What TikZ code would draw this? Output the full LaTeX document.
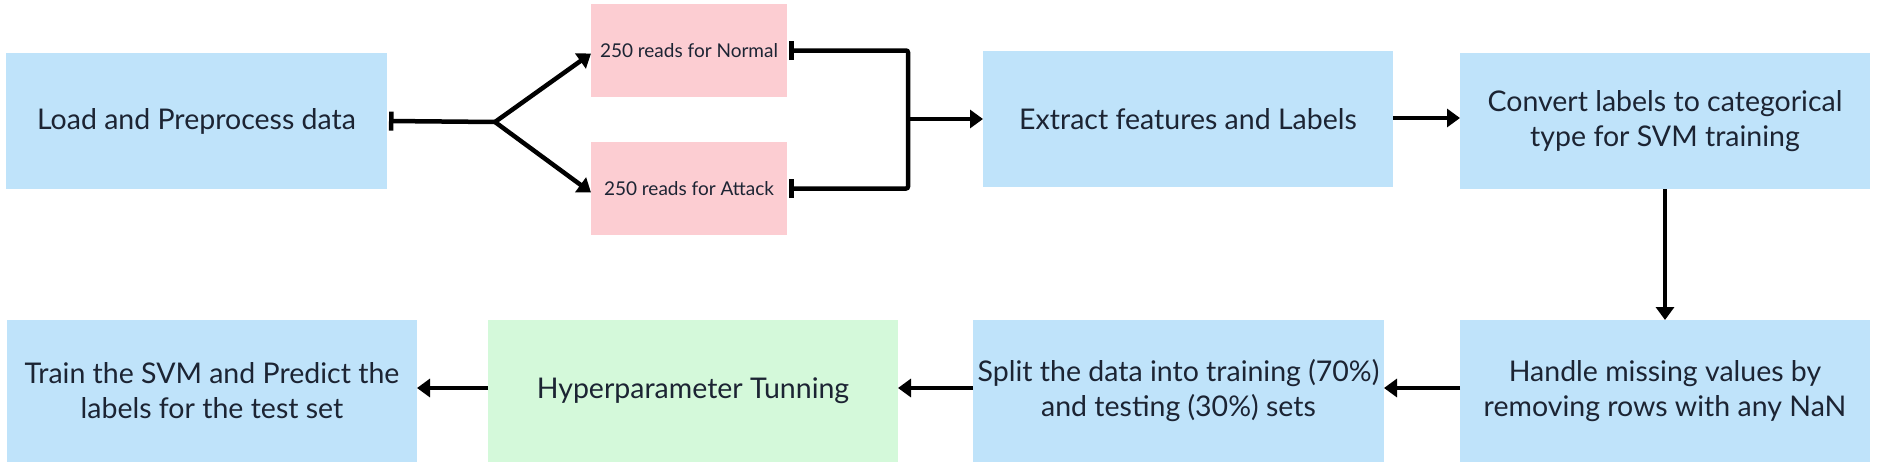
\documentclass[tikz,border=0pt]{standalone}
\usepackage{fontspec}
\setmainfont{Lato}
\usetikzlibrary{arrows.meta}
\definecolor{boxblue}{RGB}{191,227,250}
\definecolor{boxpink}{RGB}{252,205,210}
\definecolor{boxgreen}{RGB}{212,249,218}
\definecolor{txt}{RGB}{28,36,51}
\tikzset{
  base/.style={inner sep=0pt, outer sep=0pt, align=center, text=txt,
    font=\fontsize{28.5}{35}\selectfont},
  bluebox/.style={base, fill=boxblue, minimum width=410pt, minimum height=136pt},
  pinkbox/.style={base, fill=boxpink, minimum width=196pt, minimum height=93pt,
    font=\fontsize{19}{24}\selectfont},
  greenbox/.style={base, fill=boxgreen, minimum width=410pt, minimum height=142pt},
  conn/.style={line width=4.5pt, draw=black},
  arr/.style={conn, -{Triangle[length=13pt,width=18pt]}},
  barbar/.style={conn, {Bar[width=19pt]}-{Bar[width=19pt]}, rounded corners=2pt},
}
\begin{document}
\begin{tikzpicture}[x=1pt, y=-1pt]
\useasboundingbox (0,0) rectangle (1877,464);
\fill[white] (0,0) rectangle (1877,464);
% top row
\node[bluebox, minimum width=381pt] (A) at (196.5,121) {Load and Preprocess data};
\node[pinkbox] (N) at (689,50.5) {250 reads for Normal};
\node[pinkbox] (At) at (689,188.5) {250 reads for Attack};
\node[bluebox] (E) at (1188,119) {Extract features and Labels};
\node[bluebox] (C) at (1665,121) {Convert labels to categorical\\type for SVM training};
% bottom row
\node[bluebox, minimum height=142pt] (H) at (1665,391) {Handle missing values by\\removing rows with any NaN};
\node[bluebox, minimum height=142pt, minimum width=411pt] (S) at (1178.5,391) {Split the data into training (70\%)\\and testing (30\%) sets};
\node[greenbox] (Hy) at (693,391) {Hyperparameter Tunning};
\node[bluebox, minimum height=142pt] (T) at (212,391) {Train the SVM and Predict the\\labels for the test set};
% connectors
\coordinate (J) at (495,122);
\coordinate (Kt) at (908,50.5);
\coordinate (Kb) at (908,188.5);
\coordinate (Km) at (908,119);
\draw[conn, {Bar[width=19pt]}-] ([xshift=2pt]A.east) -- (J);
\draw[arr] (J) -- ([yshift=-3pt]N.west);
\draw[arr] (J) -- ([yshift=-4pt]At.west);
\draw[barbar] ([xshift=2pt]N.east) -- (Kt) -- (Kb) -- ([xshift=2pt]At.east);
\draw[arr] (Km) -- (E.west);
\draw[arr] ([yshift=1pt]E.east) -- ([yshift=1pt]E.east -| C.west);
\draw[arr] (C.south) -- (H.north);
\draw[arr] ([yshift=3pt]H.west) -- ([yshift=3pt]S.east);
\draw[arr] ([yshift=3pt]S.west) -- ([yshift=3pt]Hy.east);
\draw[arr] ([yshift=3pt]Hy.west) -- ([yshift=3pt]T.east);
\end{tikzpicture}
\end{document}
